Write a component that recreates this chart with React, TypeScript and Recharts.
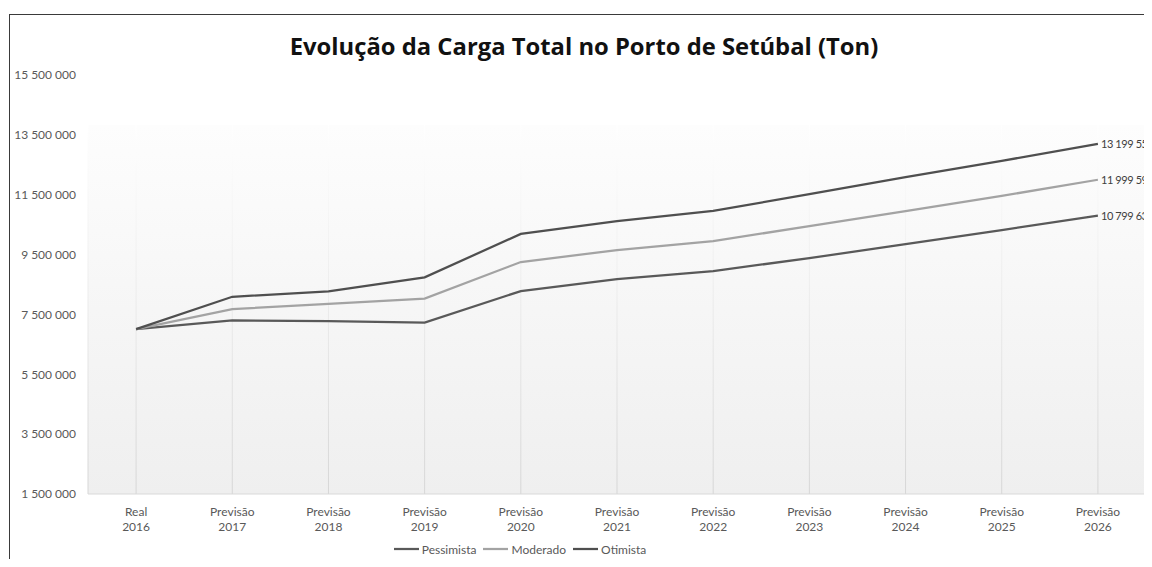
import React from "react";
import { LineChart, Line, XAxis, YAxis, CartesianGrid, Legend, LabelList } from "recharts";

const categories = [
  "Real 2016",
  "Previsão 2017",
  "Previsão 2018",
  "Previsão 2019",
  "Previsão 2020",
  "Previsão 2021",
  "Previsão 2022",
  "Previsão 2023",
  "Previsão 2024",
  "Previsão 2025",
  "Previsão 2026",
];

const pessimista = [7010000, 7300000, 7280000, 7230000, 8280000, 8680000, 8950000, 9380000, 9850000, 10320000, 10799631];
const moderado = [7010000, 7680000, 7850000, 8030000, 9250000, 9650000, 9950000, 10450000, 10950000, 11460000, 11999592];
const otimista = [7010000, 8090000, 8270000, 8740000, 10190000, 10620000, 10960000, 11520000, 12090000, 12630000, 13199553];

const yTicks = [1500000, 3500000, 5500000, 7500000, 9500000, 11500000, 13500000, 15500000];

const seriesNames = ["Pessimista", "Moderado", "Otimista"];
const seriesColors = ["#595959", "#a3a3a3", "#4f4f4f"];

const data = categories.map((c, i) => ({
  cat: c,
  Pessimista: pessimista[i],
  Moderado: moderado[i],
  Otimista: otimista[i],
}));

const FONT = "Lato, 'Open Sans', sans-serif";

const fmt = (v: number) => String(Math.round(v)).replace(/\B(?=(\d{3})+(?!\d))/g, " ");

const XTick = (props: any) => {
  const { x, y, payload } = props;
  const parts = String(payload.value).split(" ");
  return (
    <text x={x} y={y} textAnchor="middle" fill="#595959" fontSize={12} fontFamily={FONT}>
      <tspan x={x} dy={22}>{parts[0]}</tspan>
      <tspan x={x} dy={15}>{parts[1]}</tspan>
    </text>
  );
};

const EndLabel = (props: any) => {
  const { x, y, value, index } = props;
  if (index !== categories.length - 1) return null;
  return (
    <text x={x + 3} y={y} dy={4} fill="#404040" fontSize={11} letterSpacing={-0.4} fontFamily={FONT}>
      {fmt(value)}
    </text>
  );
};

const renderLegend = () => (
  <div
    style={{
      display: "flex",
      justifyContent: "center",
      alignItems: "center",
      paddingRight: 109,
      fontFamily: FONT,
      fontSize: 12,
      color: "#595959",
      height: 20,
    }}
  >
    {seriesNames.map((n, i) => (
      <div key={n} style={{ display: "flex", alignItems: "center", marginRight: 7 }}>
        <svg width={25} height={6} style={{ marginRight: 3 }}>
          <line x1={0} y1={3} x2={25} y2={3} stroke={seriesColors[i]} strokeWidth={2.25} />
        </svg>
        <span>{n}</span>
      </div>
    ))}
  </div>
);

export default function App() {
  return (
    <div style={{ paddingTop: 6, paddingLeft: 1 }}>
      <div
        style={{
          position: "relative",
          borderTop: "1px solid #3a3a3a",
          borderLeft: "1px solid #3a3a3a",
          width: 1142,
          height: 544,
        }}
      >
        <div
          style={{
            position: "absolute",
            left: 0,
            top: 16,
            width: 1142,
            paddingLeft: 6,
            boxSizing: "border-box",
            textAlign: "center",
            fontFamily: "'Open Sans', sans-serif",
            fontWeight: 700,
            fontSize: 23.8,
            lineHeight: "30px",
            color: "#111",
          }}
        >
          Evolução da Carga Total no Porto de Setúbal (Ton)
        </div>
        <LineChart
          width={1142}
          height={544}
          data={data}
          margin={{ top: 60, right: 6, bottom: 0, left: 0 }}
        >
          <defs>
            <linearGradient id="bgGrad" x1="0" y1="0" x2="0" y2="1">
              <stop offset="0" stopColor="#ffffff" />
              <stop offset="0.119" stopColor="#ffffff" />
              <stop offset="0.12" stopColor="#fdfdfd" />
              <stop offset="1" stopColor="#efefef" />
            </linearGradient>
            <linearGradient id="gridGrad" gradientUnits="userSpaceOnUse" x1="0" y1="20%" x2="0" y2="88%">
              <stop offset="0" stopColor="#ffffff" />
              <stop offset="1" stopColor="#d6d6d6" />
            </linearGradient>
          </defs>
          <CartesianGrid horizontal={false} stroke="url(#gridGrad)" fill="url(#bgGrad)" />
          <XAxis
            dataKey="cat"
            scale="band"
            height={45}
            tick={<XTick />}
            tickLine={false}
            tickSize={0}
            tickMargin={0}
            axisLine={{ stroke: "#d9d9d9" }}
            interval={0}
          />
          <YAxis
            width={78}
            domain={[1500000, 15500000]}
            ticks={yTicks}
            tickFormatter={fmt}
            axisLine={false}
            tickLine={false}
            tickSize={0}
            tickMargin={12}
            tick={{ fill: "#595959", fontSize: 12, fontFamily: FONT }}
          />
          <Legend verticalAlign="bottom" height={20} content={renderLegend} wrapperStyle={{ bottom: 0 }} />
          {seriesNames.map((n, i) => (
            <Line
              key={n}
              type="linear"
              dataKey={n}
              stroke={seriesColors[i]}
              strokeWidth={2.25}
              dot={false}
              activeDot={false}
              isAnimationActive={false}
            >
              <LabelList dataKey={n} content={<EndLabel />} />
            </Line>
          ))}
        </LineChart>
      </div>
    </div>
  );
}
